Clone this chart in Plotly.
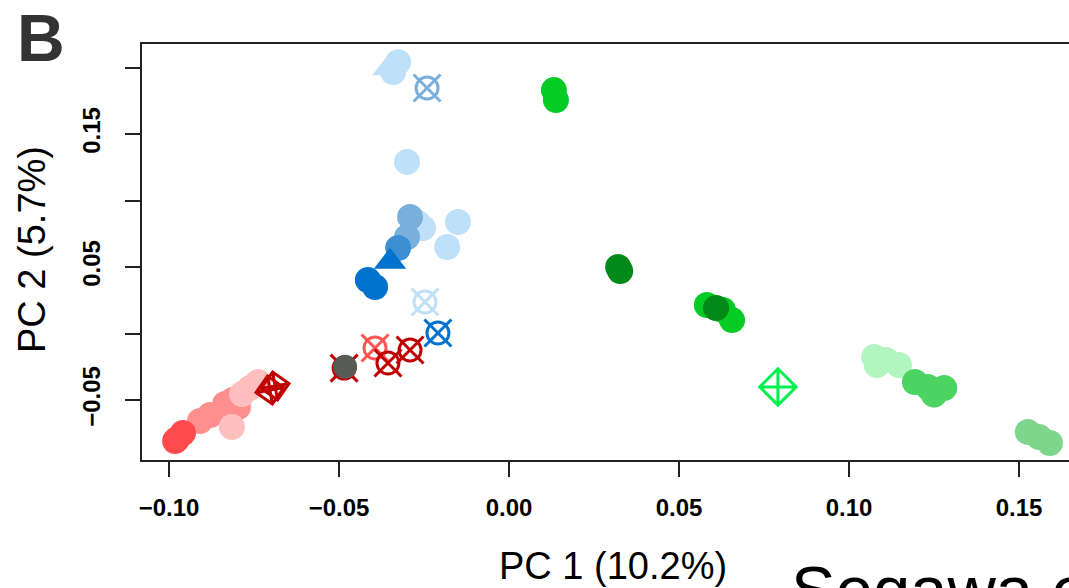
import plotly.graph_objects as go

# ---- data (PC1, PC2) ----
red_x = [-0.0982, -0.0976, -0.0959]
red_y = [-0.0808, -0.0793, -0.0748]
salmon_x = [-0.0909, -0.0879, -0.0835, -0.0812, -0.0797]
salmon_y = [-0.0658, -0.0613, -0.0530, -0.0500, -0.0553]
pink_x = [-0.0815, -0.0785, -0.0762, -0.0738]
pink_y = [-0.0703, -0.0455, -0.0410, -0.0365]
darkred_diamond_x = [-0.0703, -0.0688]
darkred_diamond_y = [-0.0425, -0.0395]
darkred_ox_x = [-0.0485, -0.0356, -0.0291]
darkred_ox_y = [-0.0260, -0.0222, -0.0124]
lightred_ox_x = [-0.0394]
lightred_ox_y = [-0.0109]
gray_x = [-0.0482]
gray_y = [-0.0250]
blue_ox_x = [-0.0209]
blue_ox_y = [0.0004]
lightblue_ox_x = [-0.0247]
lightblue_ox_y = [0.0237]
midblue_ox_x = [-0.0241]
midblue_ox_y = [0.1846]
lightblue_tri_x = [-0.0358]
lightblue_tri_y = [0.1990]
lightblue_x = [-0.0326, -0.0341, -0.0300, -0.0150, -0.0182, -0.0268, -0.0253]
lightblue_y = [0.2040, 0.1966, 0.1290, 0.0838, 0.0650, 0.0831, 0.0793]
midblue_x = [-0.0291, -0.0300]
midblue_y = [0.0876, 0.0726]
blue2_x = [-0.0326]
blue2_y = [0.0643]
blue_tri_x = [-0.0350]
blue_tri_y = [0.0540]
blue_x = [-0.0415, -0.0394]
blue_y = [0.0402, 0.0350]
green_x = [0.0132, 0.0138, 0.0582, 0.0629, 0.0656]
green_y = [0.1830, 0.1755, 0.0214, 0.0177, 0.0101]
darkgreen_x = [0.0321, 0.0327, 0.0609]
darkgreen_y = [0.0500, 0.0470, 0.0192]
neon_x = [0.0791]
neon_y = [-0.0402]
palegreen_x = [0.1074, 0.1109, 0.1147, 0.1082]
palegreen_y = [-0.0177, -0.0199, -0.0237, -0.0237]
medgreen_x = [0.1194, 0.1232, 0.1250, 0.1280]
medgreen_y = [-0.0365, -0.0402, -0.0460, -0.0410]
lightgreen_x = [0.1526, 0.1559, 0.1591]
lightgreen_y = [-0.0740, -0.0778, -0.0823]

x_ticks = [-0.10, -0.05, 0.00, 0.05, 0.10, 0.15]
x_labels = ["\u22120.10", "\u22120.05", "0.00", "0.05", "0.10", "0.15"]
y_ticks = [-0.05, 0.00, 0.05, 0.10, 0.15, 0.20]
y_labels = ["\u22120.05", "", "0.05", "", "0.15", ""]

fig = go.Figure()
DOT = 26

def dots(x, y, color, size=DOT, symbol="circle"):
    fig.add_trace(go.Scatter(x=x, y=y, mode="markers", showlegend=False,
                             marker=dict(color=color, size=size, symbol=symbol,
                                         line=dict(width=0))))

def ox(x, y, color):
    fig.add_trace(go.Scatter(x=x, y=y, mode="markers", showlegend=False,
                             marker=dict(symbol="circle-open", size=22,
                                         color=color, line=dict(color=color, width=3))))
    fig.add_trace(go.Scatter(x=x, y=y, mode="markers", showlegend=False,
                             marker=dict(symbol="x-thin-open", size=27,
                                         color=color, line=dict(color=color, width=3))))

# red group
dots(salmon_x, salmon_y, "#FF8F8F")
dots(red_x, red_y, "#FF4B4B")
dots(pink_x, pink_y, "#FFBFBF")
fig.add_trace(go.Scatter(x=darkred_diamond_x, y=darkred_diamond_y, mode="markers",
                         showlegend=False,
                         marker=dict(symbol="square-x-open", size=20, angle=35,
                                     color="#C00000", line=dict(color="#C00000", width=3))))
ox(darkred_ox_x[:1], darkred_ox_y[:1], "#C00000")
dots(gray_x, gray_y, "#565B56", size=24)
ox(lightred_ox_x, lightred_ox_y, "#FF5555")
ox(darkred_ox_x[1:], darkred_ox_y[1:], "#C00000")

# blue group
dots(lightblue_tri_x, lightblue_tri_y, "#BEE0F8", size=26, symbol="triangle-up")
dots(lightblue_x, lightblue_y, "#BEE0F8")
dots(midblue_x, midblue_y, "#78B0DB")
dots(blue2_x, blue2_y, "#3D8FD3")
dots(blue_tri_x, blue_tri_y, "#0072CE", size=28, symbol="triangle-up")
dots(blue_x, blue_y, "#0072CE")
ox(blue_ox_x, blue_ox_y, "#0072CE")
ox(lightblue_ox_x, lightblue_ox_y, "#BEE0F8")
ox(midblue_ox_x, midblue_ox_y, "#78B0DB")

# green group
dots(green_x, green_y, "#06CB24")
dots(darkgreen_x, darkgreen_y, "#028A18")
fig.add_trace(go.Scatter(x=neon_x, y=neon_y, mode="markers", showlegend=False,
                         marker=dict(symbol="diamond-cross-open", size=28,
                                     color="#00F050", line=dict(color="#00F050", width=3))))
dots(palegreen_x, palegreen_y, "#B3F5C0")
dots(medgreen_x, medgreen_y, "#4CD462")
dots(lightgreen_x, lightgreen_y, "#7DD68C")

W, H = 1069, 588
L, R, T, B = 142, W, 44, 460
X0, Y0 = 509, 333.5      # pixel of data origin
SX, SY = 3400.0, 1330.0  # pixels per data unit

def px(x):
    return (x - L) / (R - L)
def py(y):
    return (B - y) / (B - T)

fig.update_layout(
    width=W, height=H,
    margin=dict(l=L, r=W - R, t=T, b=H - B, autoexpand=False),
    plot_bgcolor="white", paper_bgcolor="white",
    font=dict(family="Liberation Sans, Arial, sans-serif", color="black"),
    xaxis=dict(range=[(L - X0) / SX, (R - X0) / SX], showgrid=False, zeroline=False,
               showline=True, mirror=True, linecolor="#222", linewidth=2,
               ticks="outside", ticklen=15, tickwidth=1.5, tickcolor="#222",
               tickvals=x_ticks, ticktext=x_labels, ticklabelstandoff=10,
               tickfont=dict(size=24, family="Liberation Sans, Arial", weight="bold")),
    yaxis=dict(range=[(Y0 - B) / SY, (Y0 - T) / SY], showgrid=False, zeroline=False,
               showline=True, linecolor="#222", linewidth=2,
               ticks="outside", ticklen=15, tickwidth=1.5, tickcolor="#222",
               tickvals=y_ticks, ticktext=y_labels, tickangle=-90, ticklabelstandoff=15,
               tickfont=dict(size=24, family="Liberation Sans, Arial", weight="bold")),
    annotations=[
        dict(text="B", xref="paper", yref="paper", x=px(15), y=py(38), xanchor="left",
             yanchor="middle", showarrow=False,
             font=dict(size=66, color="#333333", family="Liberation Sans, Arial", weight="bold")),
        dict(text="PC 1 (10.2%)", xref="paper", yref="paper", x=px(613), y=py(566),
             xanchor="center", yanchor="middle", showarrow=False,
             font=dict(size=38, color="black")),
        dict(text="PC 2 (5.7%)", xref="paper", yref="paper", x=px(32), y=py(250),
             xanchor="center", yanchor="middle", textangle=-90, showarrow=False,
             font=dict(size=38, color="black")),
        dict(text="Segawa et al.", xref="paper", yref="paper", x=px(789), y=py(550),
             xanchor="left", yanchor="top", showarrow=False,
             font=dict(size=67, color="black")),
    ],
)

fig.write_html(
    "out.html",
    config={"displayModeBar": False},
    post_script=("document.documentElement.style.margin='0';"
                 "document.body.style.margin='0';"
                 "document.documentElement.style.overflow='hidden';"
                 "document.body.style.overflow='hidden';"),
)
